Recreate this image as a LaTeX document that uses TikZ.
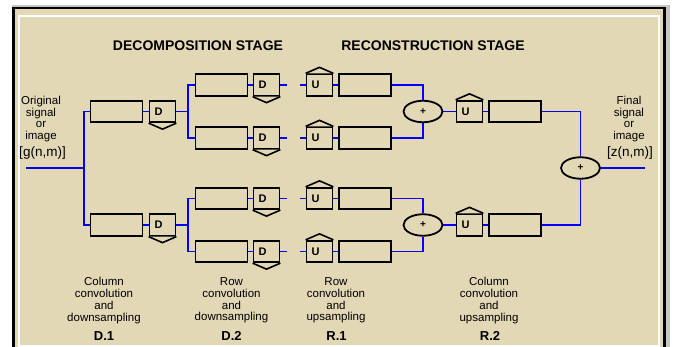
\documentclass[tikz,border=0pt]{standalone}
\usepackage{fontspec}
\setmainfont{Liberation Sans}
\usepackage{tikz}
\usetikzlibrary{shapes, calc}
\definecolor{paneltan}{RGB}{227,216,182}
\definecolor{shadowgray}{RGB}{198,198,198}
\tikzset{
  filt/.style={rectangle, draw=black, line width=1.8pt, fill=paneltan, minimum width=52pt, minimum height=21.5pt, inner sep=0pt},
  samp/.style={filt, minimum width=26pt, font=\fontsize{11}{11}\selectfont\bfseries},
  adder/.style={ellipse, draw=black, line width=1.8pt, fill=paneltan, minimum width=39pt, minimum height=21.5pt, inner sep=0pt, font=\fontsize{10}{10}\selectfont\bfseries},
  wire/.style={blue, line width=1.8pt},
  lbl/.style={align=center, inner sep=0pt, font=\fontsize{11.5}{11.7}\selectfont},
  sig/.style={inner sep=0pt, font=\fontsize{13.5}{13.5}\selectfont},
  tag/.style={inner sep=0pt, font=\fontsize{13}{13}\selectfont\bfseries}
}
\begin{document}
\begin{tikzpicture}[x=1pt, y=-1pt]
		\useasboundingbox (0,0) rectangle (673,347);
		\fill[white] (0,0) rectangle (673,347);
		% panel and frame
		\fill[shadowgray] (12,5) rectangle (670,347);
		\fill[black] (12,7) rectangle (666,347);
		\fill[paneltan] (15,9.5) rectangle (663,347);
		\draw[white, line width=2pt, fill=paneltan] (19,16) rectangle (658.5,346);
		
		\node[tag, font=\fontsize{14}{14}\selectfont\bfseries] (decomp) at (198,46) {DECOMPOSITION STAGE};
		\node[tag, font=\fontsize{14}{14}\selectfont\bfseries] (recon) at (433,46) {RECONSTRUCTION STAGE};
		
		\pgfmathsetmacro{\ya}{111.5}
		\pgfmathsetmacro{\yb}{225}
		\pgfmathsetmacro{\dy}{26.5}
		
		% D.1
		\node[filt] (colA) at (116.5,\ya) {};
		\node[filt] (colB) at (116.5,\yb) {};
		\node[samp] (dnA) at (162.5,\ya) {D\hspace*{8pt}};
		\node[samp] (dnB) at (162.5,\yb) {D\hspace*{8pt}};
		
		% D.2
		\node[filt] (rowA) at (221.5,\ya-\dy) {};
		\node[filt] (rowB) at (221.5,\ya+\dy) {};
		\node[filt] (rowC) at (221.5,\yb-\dy) {};
		\node[filt] (rowD) at (221.5,\yb+\dy) {};
		\node[samp] (dnC) at (266.5,\ya-\dy) {D\hspace*{8pt}};
		\node[samp] (dnD) at (266.5,\ya+\dy) {D\hspace*{8pt}};
		\node[samp] (dnE) at (266.5,\yb-\dy) {D\hspace*{8pt}};
		\node[samp] (dnF) at (266.5,\yb+\dy) {D\hspace*{8pt}};
		
		% R.1
		\node[samp] (upA) at (319.5,\ya-\dy) {U\hspace*{8pt}};
		\node[samp] (upB) at (319.5,\ya+\dy) {U\hspace*{8pt}};
		\node[samp] (upC) at (319.5,\yb-\dy) {U\hspace*{8pt}};
		\node[samp] (upD) at (319.5,\yb+\dy) {U\hspace*{8pt}};
		\node[filt] (recA) at (365,\ya-\dy) {};
		\node[filt] (recB) at (365,\ya+\dy) {};
		\node[filt] (recC) at (365,\yb-\dy) {};
		\node[filt] (recD) at (365,\yb+\dy) {};
		\node[adder] (sumA) at (423,\ya) {+};
		\node[adder] (sumB) at (423,\yb) {+};
		
		% R.2
		\node[samp] (upE) at (469.5,\ya) {U\hspace*{8pt}};
		\node[samp] (upF) at (469.5,\yb) {U\hspace*{8pt}};
		\node[filt] (recE) at (515,\ya) {};
		\node[filt] (recF) at (515,\yb) {};
		\node[adder] (sumC) at (580.5,168) {+};
		
		% sampling marks
		\foreach \n in {dnA,dnB,dnC,dnD,dnE,dnF}
			\draw[line width=1.6pt, fill=paneltan] (\n.south west) -- ($(\n.south)+(0,6)$) -- (\n.south east);
		\foreach \n in {upA,upB,upC,upD,upE,upF}
			\draw[line width=1.6pt, fill=paneltan] (\n.north west) -- ($(\n.north)+(0,-6)$) -- (\n.north east);
		
		% wires
		\coordinate (in) at (26,168);
		\coordinate (busA) at (84,168);
		\coordinate (busB) at (188,\ya);
		\coordinate (busC) at (188,\yb);
		\coordinate (out) at (645,168);
		\draw[wire] (in) -- (busA);
		\draw[wire] (colA.west) -| (busA) |- (colB.west);
		\draw[wire] (colA) -- (dnA);
		\draw[wire] (colB) -- (dnB);
		\draw[wire] (dnA.east) -- (busB);
		\draw[wire] (dnB.east) -- (busC);
		\draw[wire] (rowA.west) -| (busB) |- (rowB.west);
		\draw[wire] (rowC.west) -| (busC) |- (rowD.west);
		\draw[wire] (rowA) -- (dnC);
		\draw[wire] (rowB) -- (dnD);
		\draw[wire] (rowC) -- (dnE);
		\draw[wire] (rowD) -- (dnF);
		\foreach \n in {dnC,dnD,dnE,dnF}
			\draw[wire] (\n.east) -- ++(7,0);
		\foreach \n in {upA,upB,upC,upD}
			\draw[wire] (\n.west) -- ++(-6,0);
		\draw[wire] (upA) -- (recA);
		\draw[wire] (upB) -- (recB);
		\draw[wire] (upC) -- (recC);
		\draw[wire] (upD) -- (recD);
		\draw[wire] (recA.east) -| (sumA.north);
		\draw[wire] (recB.east) -| (sumA.south);
		\draw[wire] (recC.east) -| (sumB.north);
		\draw[wire] (recD.east) -| (sumB.south);
		\draw[wire] (sumA) -- (upE);
		\draw[wire] (sumB) -- (upF);
		\draw[wire] (upE) -- (recE);
		\draw[wire] (upF) -- (recF);
		\draw[wire] (recE.east) -| (sumC.north);
		\draw[wire] (recF.east) -| (sumC.south);
		\draw[wire] (sumC) -- (out);
		
		% texts
		\node[lbl] (srcTxt) at (41,119) {Original\\signal\\or\\image};
		\node[sig] (srcSig) at (42.5,153) {[g(n,m)]};
		\node[lbl] (dstTxt) at (629,119) {Final\\signal\\or\\image};
		\node[sig] (dstSig) at (630,153) {[z(n,m)]};
		
		\node[lbl] (txtA) at (104,300.5) {Column\\convolution\\and\\downsampling};
		\node[lbl] (txtB) at (231.5,300.5) {Row\\convolution\\and\\downsampling};
		\node[lbl] (txtC) at (336,300.5) {Row\\convolution\\and\\upsampling};
		\node[lbl] (txtD) at (489,300.5) {Column\\convolution\\and\\upsampling};
		\node[tag] (tagA) at (104,336) {D.1};
		\node[tag] (tagB) at (231.5,336) {D.2};
		\node[tag] (tagC) at (336.5,336) {R.1};
		\node[tag] (tagD) at (490,336) {R.2};
\end{tikzpicture}
\end{document}
